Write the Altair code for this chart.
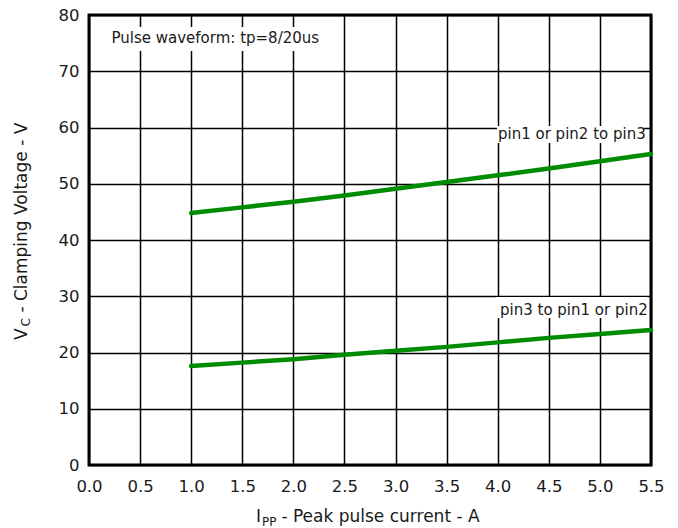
import altair as alt
import pandas as pd

# Data
current_a = [1.0, 1.5, 2.0, 2.5, 3.0, 3.5, 4.0, 4.5, 5.0, 5.5]
vc_pin12_to_pin3 = [44.8, 45.8, 46.8, 47.9, 49.1, 50.3, 51.5, 52.7, 54.0, 55.3]
vc_pin3_to_pin12 = [17.6, 18.2, 18.8, 19.6, 20.3, 21.0, 21.8, 22.6, 23.3, 24.0]
series_names = ["pin1 or pin2 to pin3", "pin3 to pin1 or pin2"]
x_ticks = [0.0, 0.5, 1.0, 1.5, 2.0, 2.5, 3.0, 3.5, 4.0, 4.5, 5.0, 5.5]
y_ticks = [0, 10, 20, 30, 40, 50, 60, 70, 80]

rows = []
for name, vals in zip(series_names, [vc_pin12_to_pin3, vc_pin3_to_pin12]):
    for xv, yv in zip(current_a, vals):
        rows.append({"series": name, "ipp": xv, "vc": yv})
df = pd.DataFrame(rows)

W, H = 562, 450
FONT = "DejaVu Sans"
TXT = "#1a1a1a"
GREEN = "#008c00"

xscale = alt.Scale(domain=[0, 5.5], nice=False, zero=False)
yscale = alt.Scale(domain=[0, 80], nice=False)

lines = alt.Chart(df).mark_line(strokeWidth=4.5, strokeCap="round", color=GREEN).encode(
    x=alt.X("ipp:Q", scale=xscale, title=None,
            axis=alt.Axis(values=x_ticks, format=".1f", labelPadding=13.5)),
    y=alt.Y("vc:Q", scale=yscale, title=None,
            axis=alt.Axis(values=y_ticks, format="d", labelPadding=10)),
    detail="series:N",
)

one = pd.DataFrame({"k": [0]})

def box(x1, x2, y1, y2):
    return alt.Chart(one).mark_rect(color="white").encode(
        x=alt.value(x1), x2=alt.value(x2), y=alt.value(y1), y2=alt.value(y2))

def label(txt, x, y, size=15, angle=0):
    kw = dict(align="left", baseline="alphabetic", font=FONT, fontSize=size, color=TXT, text=txt)
    if angle:
        kw["angle"] = angle
    return alt.Chart(one).mark_text(**kw).encode(x=alt.value(x), y=alt.value(y))

annots = [
    box(19, 231, 12, 36), label("Pulse waveform: tp=8/20us", 22.5, 27.7),
    box(408, 555, 111, 128), label(series_names[0], 409, 124),
    box(407, 559, 282, 303), label(series_names[1], 411, 300),
    # x title with subscript
    label("I", 167, 507.3, 17), label("PP", 173, 510.5, 12),
    label("- Peak pulse current - A", 192.4, 507.3, 17),
    # y title with subscript (rotated)
    label("V", -62, 325, 17, 270), label("C", -59, 311.5, 12, 270),
    label("- Clamping Voltage - V", -62, 297.6, 17, 270),
]

chart = alt.layer(lines, *annots).properties(
    width=W, height=H,
    background="white",
    autosize=alt.AutoSizeParams(type="none"),
    padding={"left": 89, "top": 15, "right": 27, "bottom": 63},
).configure_view(
    stroke="black", strokeWidth=3
).configure_axis(
    grid=True, gridColor="black", gridWidth=1.5, gridOpacity=1,
    domain=False, ticks=False, tickSize=0,
    labelFont=FONT, labelFontSize=16.5, labelColor=TXT,
    labelOverlap=False, labelFlush=False,
)

chart.save("out.html", embed_options={"renderer": "svg", "actions": False})
